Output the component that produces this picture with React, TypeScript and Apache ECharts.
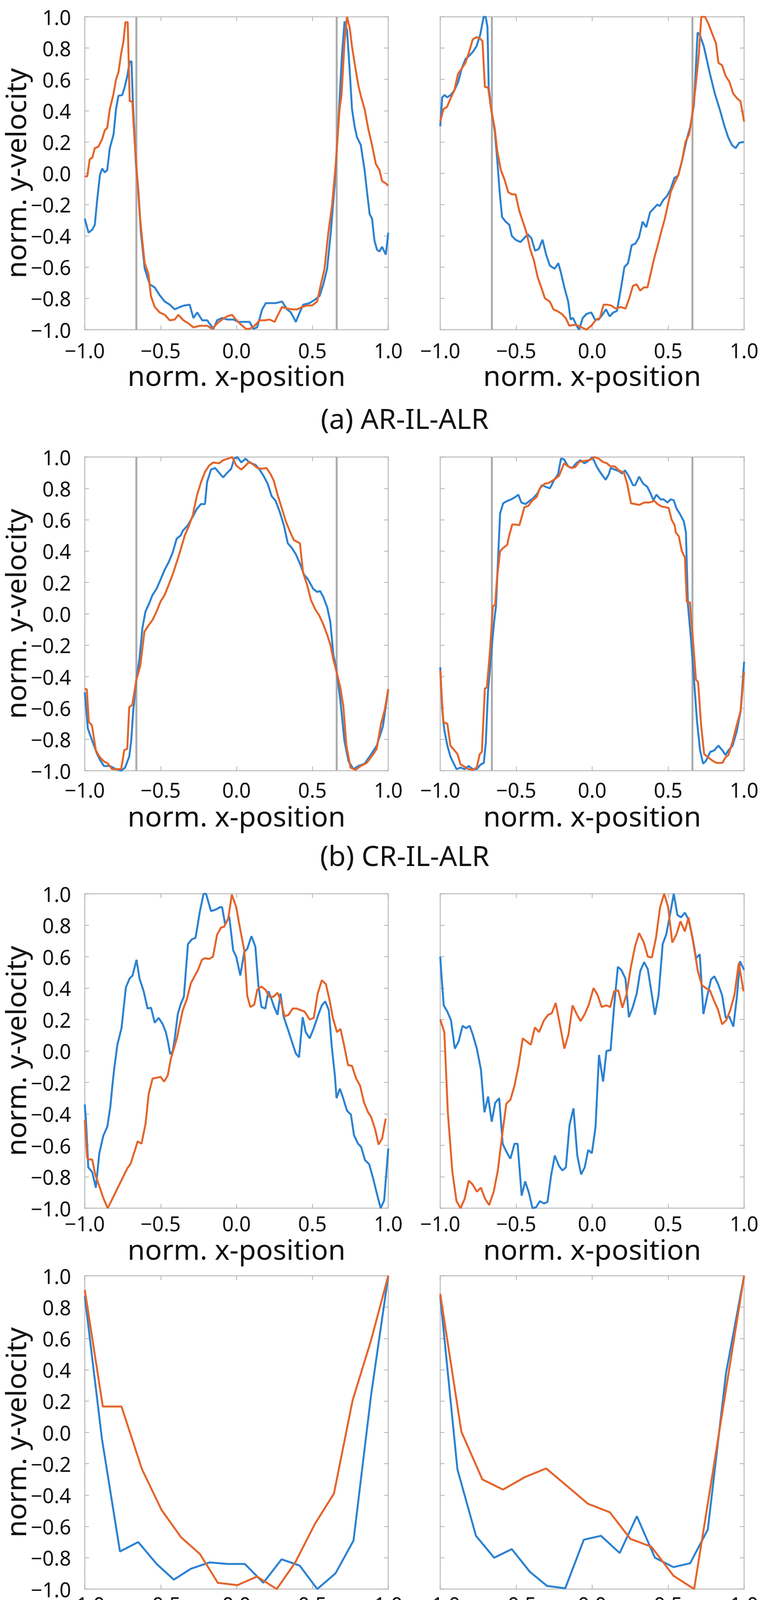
import React, { useEffect, useRef } from "react";
import * as echarts from "echarts";

// ---------- data (x = norm. x-position, y = norm. y-velocity) ----------
const aLeftIndustrial = [[-1,-0.29],[-0.975,-0.38],[-0.95,-0.36],[-0.934,-0.33],[-0.918,-0.17],[-0.9,-0.01],[-0.885,0.03],[-0.868,0.005],[-0.852,0.02],[-0.835,0.16],[-0.81,0.25],[-0.794,0.41],[-0.778,0.495],[-0.753,0.5],[-0.737,0.55],[-0.72,0.62],[-0.704,0.715],[-0.692,0.715],[-0.684,0.48],[-0.663,0.06],[-0.646,-0.12],[-0.63,-0.38],[-0.605,-0.61],[-0.572,-0.71],[-0.539,-0.73],[-0.506,-0.78],[-0.473,-0.82],[-0.44,-0.84],[-0.407,-0.87],[-0.374,-0.855],[-0.342,-0.845],[-0.309,-0.84],[-0.284,-0.925],[-0.259,-0.89],[-0.226,-0.94],[-0.193,-0.94],[-0.152,-0.995],[-0.128,-0.94],[-0.095,-0.925],[-0.062,-0.935],[-0.021,-0.935],[0.012,-0.95],[0.045,-0.95],[0.086,-0.95],[0.111,-0.995],[0.136,-0.985],[0.169,-0.87],[0.193,-0.83],[0.226,-0.83],[0.259,-0.83],[0.3,-0.82],[0.333,-0.87],[0.358,-0.89],[0.391,-0.95],[0.416,-0.89],[0.44,-0.84],[0.481,-0.83],[0.514,-0.81],[0.547,-0.785],[0.572,-0.71],[0.597,-0.61],[0.621,-0.38],[0.646,-0.08],[0.671,0.32],[0.695,0.76],[0.712,0.97],[0.728,0.915],[0.745,0.67],[0.761,0.41],[0.778,0.3],[0.794,0.23],[0.819,0.18],[0.844,0.02],[0.86,-0.12],[0.877,-0.26],[0.893,-0.29],[0.909,-0.43],[0.926,-0.49],[0.942,-0.5],[0.959,-0.47],[0.984,-0.52],[1,-0.38]];
const aLeftPilot = [[-1,-0.02],[-0.984,-0.02],[-0.967,0.09],[-0.95,0.1],[-0.934,0.16],[-0.91,0.17],[-0.885,0.22],[-0.868,0.275],[-0.852,0.29],[-0.835,0.41],[-0.81,0.51],[-0.794,0.6],[-0.778,0.645],[-0.761,0.76],[-0.745,0.845],[-0.732,0.965],[-0.717,0.965],[-0.704,0.46],[-0.687,0.46],[-0.671,0.2],[-0.654,-0.03],[-0.638,-0.26],[-0.621,-0.43],[-0.605,-0.575],[-0.58,-0.645],[-0.564,-0.785],[-0.539,-0.855],[-0.506,-0.89],[-0.473,-0.905],[-0.44,-0.94],[-0.407,-0.935],[-0.383,-0.905],[-0.35,-0.94],[-0.317,-0.96],[-0.284,-0.985],[-0.243,-0.975],[-0.193,-0.975],[-0.16,-0.995],[-0.128,-0.96],[-0.095,-0.935],[-0.062,-0.915],[-0.029,-0.905],[-0.004,-0.935],[0.021,-0.96],[0.062,-0.995],[0.086,-0.995],[0.119,-0.975],[0.152,-0.94],[0.185,-0.94],[0.218,-0.935],[0.251,-0.95],[0.276,-0.9],[0.3,-0.855],[0.333,-0.865],[0.366,-0.87],[0.399,-0.87],[0.432,-0.855],[0.465,-0.845],[0.498,-0.845],[0.531,-0.82],[0.556,-0.71],[0.58,-0.61],[0.605,-0.38],[0.63,-0.2],[0.654,0.06],[0.679,0.41],[0.692,0.5],[0.712,0.845],[0.728,1],[0.745,0.935],[0.761,0.81],[0.778,0.705],[0.802,0.565],[0.819,0.495],[0.844,0.41],[0.868,0.285],[0.893,0.18],[0.918,0.06],[0.942,0.02],[0.959,-0.05],[0.984,-0.065],[1,-0.08]];
const aRightIndustrial = [[-1,0.3],[-0.987,0.485],[-0.971,0.5],[-0.955,0.485],[-0.931,0.5],[-0.907,0.53],[-0.883,0.58],[-0.858,0.67],[-0.834,0.73],[-0.81,0.75],[-0.786,0.775],[-0.762,0.81],[-0.738,0.88],[-0.714,1],[-0.701,1],[-0.689,0.935],[-0.681,0.55],[-0.665,0.41],[-0.641,0.27],[-0.625,0.09],[-0.609,-0.12],[-0.593,-0.28],[-0.569,-0.31],[-0.545,-0.33],[-0.529,-0.4],[-0.504,-0.425],[-0.472,-0.44],[-0.448,-0.415],[-0.424,-0.39],[-0.4,-0.415],[-0.376,-0.495],[-0.352,-0.485],[-0.327,-0.425],[-0.303,-0.52],[-0.279,-0.59],[-0.247,-0.61],[-0.223,-0.575],[-0.207,-0.63],[-0.183,-0.73],[-0.158,-0.82],[-0.142,-0.935],[-0.126,-0.925],[-0.102,-0.975],[-0.086,-1],[-0.062,-0.925],[-0.038,-0.9],[-0.006,-0.89],[0.018,-0.935],[0.043,-0.935],[0.067,-0.905],[0.091,-0.87],[0.115,-0.915],[0.139,-0.89],[0.163,-0.88],[0.187,-0.75],[0.212,-0.6],[0.236,-0.575],[0.26,-0.46],[0.284,-0.45],[0.308,-0.41],[0.332,-0.31],[0.356,-0.345],[0.381,-0.25],[0.405,-0.225],[0.429,-0.2],[0.445,-0.21],[0.469,-0.17],[0.493,-0.145],[0.517,-0.1],[0.541,-0.03],[0.566,-0.015],[0.59,0.075],[0.622,0.215],[0.646,0.3],[0.67,0.44],[0.694,0.9],[0.71,0.88],[0.735,0.81],[0.751,0.74],[0.775,0.635],[0.807,0.51],[0.839,0.41],[0.871,0.3],[0.895,0.23],[0.92,0.18],[0.944,0.16],[0.968,0.195],[1,0.2]];
const aRightPilot = [[-1,0.33],[-0.979,0.41],[-0.955,0.425],[-0.931,0.48],[-0.907,0.53],[-0.883,0.635],[-0.858,0.67],[-0.834,0.705],[-0.81,0.775],[-0.786,0.855],[-0.762,0.87],[-0.738,0.86],[-0.722,0.845],[-0.706,0.55],[-0.685,0.55],[-0.665,0.41],[-0.641,0.285],[-0.625,0.145],[-0.601,0.02],[-0.577,-0.04],[-0.553,-0.12],[-0.529,-0.135],[-0.504,-0.135],[-0.48,-0.24],[-0.456,-0.31],[-0.432,-0.38],[-0.408,-0.485],[-0.384,-0.555],[-0.36,-0.66],[-0.335,-0.73],[-0.311,-0.8],[-0.279,-0.82],[-0.255,-0.87],[-0.231,-0.88],[-0.199,-0.9],[-0.175,-0.925],[-0.15,-0.975],[-0.126,-0.97],[-0.102,-0.97],[-0.07,-0.985],[-0.038,-1],[-0.006,-0.975],[0.027,-0.935],[0.051,-0.925],[0.075,-0.84],[0.099,-0.84],[0.123,-0.845],[0.155,-0.865],[0.187,-0.855],[0.22,-0.865],[0.244,-0.8],[0.268,-0.72],[0.292,-0.71],[0.316,-0.75],[0.34,-0.73],[0.364,-0.73],[0.389,-0.625],[0.405,-0.555],[0.429,-0.47],[0.453,-0.38],[0.477,-0.295],[0.493,-0.225],[0.517,-0.12],[0.541,-0.065],[0.566,-0.015],[0.59,0.075],[0.614,0.2],[0.638,0.25],[0.654,0.34],[0.678,0.53],[0.702,0.76],[0.718,1],[0.743,1],[0.767,0.95],[0.791,0.89],[0.815,0.83],[0.831,0.705],[0.855,0.69],[0.879,0.62],[0.903,0.585],[0.928,0.51],[0.952,0.48],[0.976,0.46],[1,0.33]];

const bLeftIndustrial = [[-1,-0.5],[-0.98,-0.73],[-0.951,-0.81],[-0.92,-0.89],[-0.9,-0.93],[-0.874,-0.97],[-0.834,-0.97],[-0.794,-0.99],[-0.76,-1],[-0.734,-0.98],[-0.707,-0.91],[-0.694,-0.81],[-0.68,-0.61],[-0.66,-0.42],[-0.64,-0.29],[-0.62,-0.09],[-0.6,0.015],[-0.574,0.07],[-0.554,0.12],[-0.527,0.16],[-0.5,0.22],[-0.474,0.28],[-0.447,0.33],[-0.421,0.39],[-0.394,0.48],[-0.368,0.5],[-0.354,0.53],[-0.321,0.565],[-0.288,0.62],[-0.261,0.67],[-0.234,0.7],[-0.208,0.7],[-0.194,0.84],[-0.168,0.92],[-0.141,0.93],[-0.115,0.9],[-0.088,0.87],[-0.061,0.9],[-0.035,0.925],[-0.015,0.99],[0.005,1],[0.032,0.965],[0.059,0.99],[0.085,0.965],[0.125,0.95],[0.152,0.92],[0.178,0.88],[0.205,0.83],[0.232,0.75],[0.258,0.72],[0.285,0.65],[0.312,0.565],[0.338,0.45],[0.365,0.42],[0.391,0.38],[0.418,0.32],[0.445,0.25],[0.471,0.22],[0.505,0.16],[0.531,0.14],[0.551,0.145],[0.571,0.11],[0.598,0.04],[0.618,-0.05],[0.638,-0.26],[0.658,-0.35],[0.684,-0.55],[0.711,-0.81],[0.738,-0.94],[0.771,-0.99],[0.804,-0.97],[0.844,-0.955],[0.884,-0.9],[0.924,-0.84],[0.964,-0.72],[1,-0.48]];
const bLeftPilot = [[-1,-0.48],[-0.987,-0.48],[-0.973,-0.69],[-0.953,-0.71],[-0.927,-0.87],[-0.9,-0.915],[-0.874,-0.94],[-0.847,-0.955],[-0.82,-0.99],[-0.78,-0.99],[-0.76,-0.99],[-0.74,-0.87],[-0.72,-0.86],[-0.707,-0.595],[-0.687,-0.58],[-0.66,-0.42],[-0.634,-0.33],[-0.607,-0.115],[-0.581,-0.075],[-0.554,-0.04],[-0.527,0.015],[-0.5,0.08],[-0.474,0.12],[-0.447,0.185],[-0.421,0.25],[-0.394,0.33],[-0.368,0.41],[-0.341,0.5],[-0.314,0.56],[-0.288,0.63],[-0.261,0.755],[-0.234,0.84],[-0.208,0.905],[-0.181,0.945],[-0.154,0.965],[-0.115,0.96],[-0.088,0.98],[-0.055,0.99],[-0.028,1],[-0.001,0.945],[0.032,0.92],[0.059,0.945],[0.085,0.97],[0.112,0.95],[0.138,0.93],[0.165,0.925],[0.198,0.93],[0.225,0.89],[0.245,0.85],[0.272,0.755],[0.298,0.675],[0.325,0.59],[0.352,0.525],[0.378,0.47],[0.418,0.45],[0.438,0.265],[0.465,0.185],[0.491,0.087],[0.518,0.03],[0.545,-0.01],[0.571,-0.065],[0.598,-0.135],[0.618,-0.195],[0.638,-0.29],[0.658,-0.365],[0.684,-0.47],[0.704,-0.59],[0.724,-0.84],[0.751,-0.98],[0.784,-0.995],[0.818,-0.97],[0.858,-0.95],[0.897,-0.9],[0.924,-0.86],[0.951,-0.705],[0.977,-0.61],[1,-0.48]];
const bRightIndustrial = [[-1,-0.34],[-0.987,-0.61],[-0.973,-0.74],[-0.953,-0.84],[-0.933,-0.91],[-0.913,-0.95],[-0.893,-0.99],[-0.866,-0.98],[-0.84,-0.99],[-0.813,-0.97],[-0.786,-0.99],[-0.76,-0.99],[-0.733,-0.96],[-0.713,-0.95],[-0.7,-0.82],[-0.686,-0.5],[-0.666,-0.27],[-0.646,-0.055],[-0.633,0.05],[-0.619,0.36],[-0.606,0.64],[-0.586,0.705],[-0.559,0.72],[-0.532,0.73],[-0.506,0.745],[-0.486,0.76],[-0.466,0.71],[-0.439,0.7],[-0.412,0.72],[-0.385,0.74],[-0.359,0.77],[-0.332,0.82],[-0.305,0.81],[-0.279,0.8],[-0.252,0.85],[-0.225,0.89],[-0.205,0.99],[-0.185,0.985],[-0.158,0.94],[-0.132,0.93],[-0.105,0.96],[-0.078,0.98],[-0.051,0.96],[-0.025,0.975],[0.002,1],[0.029,0.94],[0.055,0.9],[0.089,0.855],[0.109,0.89],[0.122,0.93],[0.149,0.92],[0.176,0.91],[0.196,0.895],[0.216,0.915],[0.242,0.875],[0.269,0.82],[0.283,0.82],[0.309,0.875],[0.336,0.83],[0.363,0.81],[0.383,0.77],[0.403,0.725],[0.423,0.76],[0.45,0.73],[0.47,0.73],[0.496,0.71],[0.516,0.73],[0.536,0.725],[0.556,0.67],[0.576,0.64],[0.603,0.59],[0.617,0.52],[0.63,0.06],[0.65,-0.16],[0.67,-0.42],[0.69,-0.685],[0.71,-0.87],[0.73,-0.955],[0.75,-0.935],[0.777,-0.88],[0.804,-0.87],[0.83,-0.84],[0.857,-0.87],[0.877,-0.9],[0.897,-0.87],[0.924,-0.84],[0.951,-0.75],[0.977,-0.62],[1,-0.305]];
const bRightPilot = [[-1,-0.36],[-0.98,-0.69],[-0.953,-0.7],[-0.933,-0.84],[-0.906,-0.87],[-0.886,-0.895],[-0.866,-0.96],[-0.84,-0.975],[-0.813,-0.99],[-0.786,-0.995],[-0.76,-0.98],[-0.74,-0.895],[-0.726,-0.88],[-0.706,-0.475],[-0.693,-0.47],[-0.673,-0.24],[-0.653,0.05],[-0.639,0.055],[-0.626,0.23],[-0.606,0.4],[-0.586,0.42],[-0.559,0.44],[-0.546,0.5],[-0.526,0.57],[-0.506,0.57],[-0.479,0.565],[-0.446,0.68],[-0.419,0.69],[-0.392,0.725],[-0.365,0.745],[-0.345,0.8],[-0.312,0.83],[-0.285,0.835],[-0.252,0.855],[-0.218,0.88],[-0.185,0.96],[-0.165,0.945],[-0.138,0.93],[-0.112,0.935],[-0.085,0.97],[-0.051,0.975],[-0.018,0.98],[0.015,1],[0.042,0.99],[0.069,0.97],[0.096,0.96],[0.122,0.94],[0.149,0.94],[0.176,0.915],[0.209,0.9],[0.229,0.835],[0.256,0.705],[0.283,0.7],[0.309,0.695],[0.343,0.71],[0.376,0.71],[0.41,0.72],[0.43,0.7],[0.456,0.685],[0.483,0.68],[0.503,0.675],[0.523,0.6],[0.543,0.565],[0.55,0.52],[0.57,0.495],[0.59,0.4],[0.61,0.36],[0.623,0.075],[0.643,0.075],[0.663,-0.16],[0.683,-0.42],[0.697,-0.435],[0.717,-0.71],[0.737,-0.895],[0.764,-0.915],[0.79,-0.935],[0.817,-0.95],[0.857,-0.95],[0.877,-0.915],[0.897,-0.9],[0.924,-0.815],[0.951,-0.71],[0.977,-0.62],[1,-0.37]];

const c1LeftIndustrial = [[-1,-0.34],[-0.991,-0.46],[-0.977,-0.74],[-0.951,-0.77],[-0.927,-0.87],[-0.904,-0.65],[-0.878,-0.54],[-0.851,-0.48],[-0.831,-0.35],[-0.818,-0.22],[-0.805,-0.105],[-0.785,0.04],[-0.758,0.145],[-0.745,0.26],[-0.729,0.405],[-0.705,0.46],[-0.685,0.48],[-0.659,0.58],[-0.639,0.46],[-0.612,0.38],[-0.586,0.27],[-0.563,0.275],[-0.539,0.18],[-0.513,0.21],[-0.486,0.17],[-0.466,0.12],[-0.453,0.065],[-0.437,-0.02],[-0.42,0],[-0.407,0.08],[-0.387,0.235],[-0.367,0.3],[-0.347,0.345],[-0.32,0.68],[-0.294,0.71],[-0.27,0.72],[-0.241,0.89],[-0.217,1],[-0.201,1],[-0.168,0.89],[-0.135,0.9],[-0.108,0.915],[-0.095,0.915],[-0.075,0.805],[-0.048,0.855],[-0.022,0.64],[-0.002,0.6],[0.025,0.48],[0.051,0.63],[0.071,0.65],[0.098,0.73],[0.124,0.665],[0.144,0.42],[0.164,0.28],[0.19,0.27],[0.21,0.38],[0.23,0.33],[0.25,0.275],[0.27,0.23],[0.29,0.365],[0.31,0.22],[0.336,0.145],[0.363,0.065],[0.39,-0.015],[0.412,-0.04],[0.436,0.215],[0.456,0.12],[0.482,0.08],[0.509,0.145],[0.535,0.22],[0.562,0.29],[0.585,0.315],[0.608,0.26],[0.628,0.025],[0.648,-0.155],[0.659,-0.3],[0.681,-0.24],[0.701,-0.295],[0.728,-0.38],[0.754,-0.405],[0.774,-0.535],[0.801,-0.59],[0.821,-0.61],[0.847,-0.695],[0.874,-0.72],[0.9,-0.81],[0.927,-0.915],[0.95,-1],[0.973,-0.95],[1,-0.62]];
const c1LeftPilot = [[-1,-0.44],[-0.984,-0.68],[-0.971,-0.69],[-0.951,-0.69],[-0.931,-0.785],[-0.904,-0.86],[-0.878,-0.935],[-0.849,-1],[-0.818,-0.94],[-0.785,-0.875],[-0.752,-0.81],[-0.719,-0.745],[-0.699,-0.72],[-0.672,-0.64],[-0.652,-0.575],[-0.626,-0.59],[-0.599,-0.46],[-0.579,-0.275],[-0.553,-0.175],[-0.526,-0.17],[-0.5,-0.165],[-0.477,-0.195],[-0.453,-0.155],[-0.433,-0.05],[-0.413,0.015],[-0.393,0.08],[-0.374,0.17],[-0.354,0.26],[-0.327,0.33],[-0.301,0.43],[-0.274,0.48],[-0.254,0.515],[-0.228,0.58],[-0.208,0.59],[-0.181,0.585],[-0.155,0.6],[-0.128,0.74],[-0.102,0.785],[-0.082,0.79],[-0.055,0.84],[-0.031,0.995],[-0.002,0.915],[0.025,0.77],[0.051,0.64],[0.071,0.35],[0.091,0.28],[0.117,0.295],[0.137,0.39],[0.164,0.41],[0.19,0.39],[0.217,0.345],[0.243,0.345],[0.27,0.37],[0.29,0.325],[0.317,0.22],[0.343,0.23],[0.37,0.27],[0.396,0.27],[0.423,0.26],[0.449,0.25],[0.482,0.2],[0.509,0.21],[0.535,0.365],[0.562,0.45],[0.589,0.425],[0.615,0.315],[0.635,0.21],[0.662,0.12],[0.685,0.14],[0.708,0.04],[0.735,-0.09],[0.761,-0.095],[0.788,-0.175],[0.814,-0.22],[0.841,-0.33],[0.867,-0.39],[0.887,-0.42],[0.914,-0.5],[0.936,-0.595],[0.96,-0.555],[0.983,-0.43]];
const c1RightIndustrial = [[-1,0.6],[-0.991,0.47],[-0.977,0.29],[-0.953,0.25],[-0.929,0.195],[-0.904,0.015],[-0.879,0.06],[-0.853,0.16],[-0.83,0.145],[-0.806,0.16],[-0.786,0.105],[-0.759,0.015],[-0.732,-0.12],[-0.709,-0.39],[-0.685,-0.29],[-0.661,-0.45],[-0.638,-0.33],[-0.612,-0.3],[-0.589,-0.59],[-0.565,-0.64],[-0.538,-0.685],[-0.511,-0.59],[-0.491,-0.59],[-0.464,-0.92],[-0.441,-0.83],[-0.417,-0.9],[-0.393,-1],[-0.37,-0.995],[-0.344,-0.955],[-0.317,-0.97],[-0.294,-0.96],[-0.27,-0.79],[-0.246,-0.665],[-0.219,-0.73],[-0.196,-0.76],[-0.173,-0.74],[-0.149,-0.47],[-0.123,-0.365],[-0.098,-0.665],[-0.073,-0.785],[-0.049,-0.74],[-0.026,-0.63],[-0.002,-0.65],[0.022,-0.485],[0.045,-0.025],[0.072,-0.195],[0.094,0],[0.121,0.005],[0.145,0.29],[0.169,0.535],[0.192,0.515],[0.219,0.46],[0.242,0.215],[0.266,0.275],[0.293,0.365],[0.317,0.51],[0.342,0.565],[0.366,0.52],[0.389,0.38],[0.413,0.23],[0.437,0.355],[0.464,0.68],[0.487,0.74],[0.511,0.86],[0.537,1],[0.561,0.865],[0.585,0.85],[0.61,0.88],[0.634,0.835],[0.661,0.72],[0.684,0.59],[0.708,0.615],[0.732,0.235],[0.755,0.34],[0.782,0.455],[0.804,0.475],[0.829,0.425],[0.855,0.355],[0.879,0.21],[0.902,0.22],[0.929,0.155],[0.952,0.34],[0.973,0.57],[1,0.515]];
const c1RightPilot = [[-1,0.2],[-0.973,0.12],[-0.95,-0.39],[-0.92,-0.77],[-0.893,-0.955],[-0.866,-1],[-0.839,-0.94],[-0.812,-0.825],[-0.786,-0.85],[-0.759,-0.895],[-0.732,-0.87],[-0.705,-0.94],[-0.678,-0.98],[-0.648,-0.895],[-0.621,-0.76],[-0.591,-0.525],[-0.565,-0.335],[-0.538,-0.31],[-0.511,-0.22],[-0.484,-0.09],[-0.457,0.08],[-0.431,0.06],[-0.404,0.04],[-0.377,0.15],[-0.35,0.12],[-0.317,0.195],[-0.29,0.23],[-0.266,0.24],[-0.24,0.305],[-0.21,0.155],[-0.183,0.015],[-0.156,0.105],[-0.129,0.29],[-0.102,0.235],[-0.076,0.19],[-0.049,0.235],[-0.022,0.295],[0.009,0.4],[0.036,0.355],[0.062,0.28],[0.092,0.29],[0.119,0.28],[0.145,0.38],[0.172,0.385],[0.199,0.275],[0.226,0.36],[0.252,0.52],[0.282,0.665],[0.309,0.75],[0.34,0.69],[0.366,0.6],[0.393,0.595],[0.42,0.72],[0.447,0.915],[0.474,1],[0.5,0.915],[0.527,0.69],[0.554,0.74],[0.581,0.825],[0.61,0.76],[0.634,0.85],[0.665,0.69],[0.695,0.51],[0.721,0.42],[0.748,0.4],[0.775,0.385],[0.802,0.32],[0.829,0.26],[0.855,0.17],[0.882,0.195],[0.909,0.26],[0.936,0.355],[0.965,0.56],[0.996,0.38]];

const c2LeftIndustrial = [[-1,0.87],[-0.887,-0.04],[-0.768,-0.76],[-0.648,-0.7],[-0.526,-0.84],[-0.413,-0.94],[-0.3,-0.87],[-0.177,-0.83],[-0.058,-0.84],[0.055,-0.84],[0.177,-0.96],[0.297,-0.81],[0.416,-0.85],[0.532,-1],[0.652,-0.9],[0.771,-0.69],[0.887,0.24],[1,1]];
const c2LeftPilot = [[-1,0.91],[-0.881,0.165],[-0.758,0.165],[-0.623,-0.235],[-0.494,-0.495],[-0.365,-0.67],[-0.242,-0.775],[-0.123,-0.96],[0.006,-0.975],[0.135,-0.92],[0.265,-1],[0.387,-0.83],[0.516,-0.585],[0.642,-0.39],[0.765,0.205],[0.887,0.59],[1,1]];
const c2RightIndustrial = [[-1,0.87],[-0.887,-0.235],[-0.765,-0.66],[-0.645,-0.8],[-0.529,-0.745],[-0.41,-0.89],[-0.297,-0.98],[-0.177,-0.995],[-0.055,-0.685],[0.058,-0.66],[0.181,-0.77],[0.294,-0.535],[0.413,-0.8],[0.535,-0.86],[0.645,-0.835],[0.761,-0.62],[0.881,0.38],[1,1]];
const c2RightPilot = [[-1,0.885],[-0.861,0.005],[-0.723,-0.3],[-0.587,-0.365],[-0.442,-0.285],[-0.303,-0.23],[-0.168,-0.34],[-0.029,-0.455],[0.116,-0.51],[0.252,-0.68],[0.39,-0.73],[0.535,-0.915],[0.671,-1],[1,1]];

const dLeftIndustrial = [[-1,-0.215],[-0.987,-0.485],[-0.974,-0.74],[-0.96,-0.71],[-0.943,-0.895],[-0.921,-0.895],[-0.903,-1],[-0.885,-0.93],[-0.868,-0.91],[-0.848,-0.87],[-0.828,-0.865],[-0.808,-0.765],[-0.792,-0.83],[-0.768,-0.81],[-0.752,-0.69],[-0.739,-0.72],[-0.722,-0.785],[-0.702,-0.72],[-0.682,-0.64],[-0.662,-0.56],[-0.642,-0.38],[-0.625,-0.345],[-0.605,-0.45],[-0.589,-0.46],[-0.57,-0.43],[-0.546,-0.22],[-0.532,-0.215],[-0.517,-0.315],[-0.483,-0.41],[-0.464,-0.25],[-0.444,-0.09],[-0.43,-0.07],[-0.404,0.12],[-0.384,0.13],[-0.358,0.105],[-0.331,0.19],[-0.311,0.315],[-0.291,0.47],[-0.272,0.635],[-0.252,0.655],[-0.228,0.86],[-0.212,0.86],[-0.199,0.875],[-0.179,0.785],[-0.162,0.6],[-0.146,0.6],[-0.126,0.645],[-0.099,0.65],[-0.086,0.64],[-0.069,0.7],[-0.05,0.78],[-0.033,0.69],[-0.013,0.685],[0,0.645],[0.02,0.75],[0.037,0.69],[0.056,0.6],[0.073,0.675],[0.093,0.58],[0.106,0.5],[0.119,0.535],[0.146,0.45],[0.172,0.645],[0.192,0.665],[0.219,0.71],[0.232,0.635],[0.252,0.53],[0.272,0.54],[0.291,0.59],[0.318,0.7],[0.335,0.665],[0.355,0.59],[0.377,0.665],[0.397,0.655],[0.417,0.69],[0.444,0.86],[0.468,0.905],[0.494,0.745],[0.51,0.8],[0.523,0.815],[0.532,0.89],[0.55,0.785],[0.567,0.72],[0.58,0.825],[0.596,0.975],[0.616,0.98],[0.636,1],[0.662,0.94],[0.699,0.975],[0.715,0.915],[0.732,0.68],[0.752,0.64],[0.768,0.43],[0.788,0.235],[0.808,0.12],[0.834,-0.025],[0.861,-0.13],[0.887,-0.315],[0.914,-0.485],[0.944,-0.675],[0.971,-0.6],[1,-0.2]];
const dLeftPilot = [[-1,-0.355],[-0.983,-0.36],[-0.967,-0.69],[-0.954,-0.71],[-0.938,-0.995],[-0.921,-0.98],[-0.907,-0.98],[-0.89,-0.86],[-0.874,-0.855],[-0.858,-0.705],[-0.841,-0.7],[-0.828,-0.57],[-0.811,-0.505],[-0.795,-0.5],[-0.781,-0.38],[-0.766,-0.375],[-0.752,-0.21],[-0.735,-0.06],[-0.722,-0.06],[-0.705,0.13],[-0.689,0.135],[-0.672,0.26],[-0.656,0.28],[-0.636,0.29],[-0.623,0.315],[-0.609,0.315],[-0.596,0.405],[-0.58,0.41],[-0.563,0.51],[-0.543,0.52],[-0.53,0.5],[-0.51,0.465],[-0.497,0.47],[-0.483,0.525],[-0.457,0.515],[-0.441,0.355],[-0.426,0.35],[-0.411,0.25],[-0.391,0.27],[-0.364,0.31],[-0.331,0.3],[-0.305,0.29],[-0.281,0.31],[-0.265,0.42],[-0.241,0.42],[-0.225,0.58],[-0.199,0.58],[-0.179,0.54],[-0.162,0.535],[-0.146,0.51],[-0.126,0.54],[-0.113,0.545],[-0.103,0.68],[-0.086,0.68],[-0.069,0.84],[-0.056,0.845],[-0.04,0.93],[-0.02,1],[0,0.955],[0.02,0.94],[0.037,0.87],[0.06,0.89],[0.073,0.89],[0.09,0.98],[0.099,0.98],[0.119,0.895],[0.132,0.89],[0.15,0.745],[0.166,0.79],[0.183,0.77],[0.199,0.745],[0.215,0.74],[0.232,0.69],[0.249,0.665],[0.265,0.64],[0.285,0.575],[0.298,0.525],[0.315,0.36],[0.335,0.34],[0.355,0.335],[0.377,0.37],[0.397,0.375],[0.411,0.34],[0.43,0.39],[0.45,0.385],[0.47,0.37],[0.487,0.36],[0.503,0.425],[0.523,0.44],[0.536,0.5],[0.55,0.51],[0.563,0.7],[0.58,0.82],[0.596,0.825],[0.625,0.825],[0.642,0.785],[0.66,0.765],[0.673,0.68],[0.689,0.57],[0.705,0.555],[0.722,0.47],[0.735,0.45],[0.752,0.34],[0.768,0.235],[0.788,0.23],[0.801,0.105],[0.819,0.09],[0.834,-0.105],[0.848,-0.24],[0.861,-0.245],[0.877,-0.355],[0.894,-0.36],[0.911,-0.43],[0.927,-0.435],[0.94,-0.49],[0.954,-0.465],[0.967,-0.465],[0.983,-0.295],[1,-0.295]];
const dRightIndustrial = [[-1,0.6],[-0.987,0.99],[-0.964,0.785],[-0.944,0.59],[-0.933,0.55],[-0.917,0.53],[-0.907,0.505],[-0.893,0.355],[-0.877,0.325],[-0.864,0.315],[-0.844,0.275],[-0.831,0.27],[-0.808,0.065],[-0.791,0.12],[-0.777,0.16],[-0.764,0.145],[-0.744,0.105],[-0.724,0.025],[-0.711,-0.105],[-0.693,-0.17],[-0.677,-0.21],[-0.657,-0.355],[-0.637,-0.485],[-0.624,-0.525],[-0.604,-0.485],[-0.584,-0.46],[-0.564,-0.4],[-0.551,-0.41],[-0.533,-0.47],[-0.511,-0.505],[-0.491,-0.485],[-0.471,-0.55],[-0.451,-0.63],[-0.431,-0.635],[-0.411,-0.59],[-0.397,-0.555],[-0.384,-0.59],[-0.371,-0.68],[-0.344,-0.76],[-0.324,-0.875],[-0.307,-1],[-0.291,-0.955],[-0.271,-0.935],[-0.244,-0.98],[-0.221,-0.9],[-0.204,-0.875],[-0.184,-0.935],[-0.168,-0.995],[-0.151,-0.97],[-0.131,-0.99],[-0.107,-0.9],[-0.091,-0.93],[-0.071,-0.865],[-0.053,-0.8],[-0.031,-0.835],[-0.011,-0.73],[0.003,-0.655],[0.023,-0.615],[0.04,-0.59],[0.059,-0.61],[0.08,-0.56],[0.099,-0.495],[0.12,-0.485],[0.143,-0.39],[0.156,-0.405],[0.173,-0.34],[0.189,-0.275],[0.209,-0.2],[0.223,-0.18],[0.236,-0.24],[0.256,-0.22],[0.276,-0.22],[0.296,-0.2],[0.316,-0.225],[0.329,-0.145],[0.349,-0.025],[0.369,0.13],[0.387,0.29],[0.403,0.42],[0.423,0.47],[0.44,0.515],[0.456,0.445],[0.469,0.405],[0.489,0.5],[0.507,0.57],[0.523,0.6],[0.543,0.67],[0.556,0.665],[0.583,0.595],[0.609,0.595],[0.629,0.6],[0.645,0.635],[0.663,0.575],[0.689,0.6],[0.716,0.625],[0.729,0.615],[0.749,0.555],[0.776,0.525],[0.796,0.575],[0.813,0.645],[0.827,0.64],[0.843,0.6],[0.856,0.665],[0.872,0.71],[0.885,0.7],[0.903,0.655],[0.923,0.66],[0.943,0.64],[0.963,0.7],[0.98,0.79],[0.989,0.63],[1,0.47]];
const dRightPilot = [[-1,-0.185],[-0.987,-0.19],[-0.971,-0.305],[-0.955,-0.31],[-0.941,-0.68],[-0.924,-0.85],[-0.907,-0.865],[-0.891,-0.96],[-0.875,-0.97],[-0.853,-1],[-0.835,-0.915],[-0.817,-0.705],[-0.8,-0.705],[-0.784,-0.555],[-0.768,-0.55],[-0.755,-0.47],[-0.741,-0.315],[-0.724,-0.31],[-0.707,-0.27],[-0.688,-0.255],[-0.677,-0.22],[-0.661,-0.045],[-0.644,-0.04],[-0.631,0.12],[-0.617,0.12],[-0.6,0.23],[-0.584,0.235],[-0.568,0.315],[-0.551,0.4],[-0.537,0.395],[-0.52,0.275],[-0.504,0.275],[-0.491,0.12],[-0.477,0.13],[-0.461,0.13],[-0.444,0.1],[-0.417,0.1],[-0.408,0.22],[-0.397,0.325],[-0.381,0.33],[-0.367,0.445],[-0.351,0.445],[-0.337,0.355],[-0.317,0.35],[-0.304,0.275],[-0.291,0.36],[-0.275,0.36],[-0.261,0.215],[-0.237,0.22],[-0.221,0.13],[-0.204,0.12],[-0.181,-0.025],[-0.164,-0.04],[-0.151,-0.05],[-0.133,0.13],[-0.117,0.135],[-0.101,0.21],[-0.084,0.205],[-0.067,0.19],[-0.053,0.19],[-0.035,0.45],[-0.017,0.455],[0.003,0.575],[0.019,0.575],[0.032,0.515],[0.063,0.515],[0.076,0.555],[0.096,0.57],[0.112,0.63],[0.129,0.635],[0.143,0.7],[0.16,0.83],[0.173,0.84],[0.187,0.965],[0.2,1],[0.223,0.955],[0.24,0.79],[0.253,0.785],[0.269,0.675],[0.289,0.68],[0.309,0.71],[0.329,0.72],[0.343,0.515],[0.36,0.505],[0.383,0.28],[0.403,0.28],[0.423,0.34],[0.443,0.345],[0.456,0.365],[0.472,0.365],[0.489,0.5],[0.509,0.59],[0.536,0.59],[0.549,0.575],[0.563,0.47],[0.579,0.34],[0.596,0.335],[0.623,0.33],[0.645,0.365],[0.667,0.34],[0.683,0.19],[0.699,0.185],[0.716,0.1],[0.733,0.09],[0.749,0.02],[0.776,0.015],[0.796,0.025],[0.813,0.025],[0.827,-0.17],[0.843,-0.23],[0.856,-0.235],[0.876,-0.3],[0.896,-0.29],[0.916,-0.285],[0.936,-0.265],[0.949,0.15],[0.963,0.155],[0.976,0.085],[0.996,0.08]];

const boundaryLines = [-0.66, 0.66];
const seriesNames = ["industrial-scale", "pilot-scale"];
const captions = ["(a) AR-IL-ALR", "(b) CR-IL-ALR", "(c) EL-ALR", "(d) BCR"];
const xAxisTitle = "norm. x-position";
const yAxisTitle = "norm. y-velocity";

const panels = [
  { row: 0, col: 0, ind: aLeftIndustrial, pil: aLeftPilot, bounds: true },
  { row: 0, col: 1, ind: aRightIndustrial, pil: aRightPilot, bounds: true },
  { row: 1, col: 0, ind: bLeftIndustrial, pil: bLeftPilot, bounds: true },
  { row: 1, col: 1, ind: bRightIndustrial, pil: bRightPilot, bounds: true },
  { row: 2, col: 0, ind: c1LeftIndustrial, pil: c1LeftPilot, bounds: false },
  { row: 2, col: 1, ind: c1RightIndustrial, pil: c1RightPilot, bounds: false },
  { row: 3, col: 0, ind: c2LeftIndustrial, pil: c2LeftPilot, bounds: false },
  { row: 3, col: 1, ind: c2RightIndustrial, pil: c2RightPilot, bounds: false },
  { row: 4, col: 0, ind: dLeftIndustrial, pil: dLeftPilot, bounds: false },
  { row: 4, col: 1, ind: dRightIndustrial, pil: dRightPilot, bounds: false },
];

// ---------- layout ----------
const W = 1961;
const H = 5553;
const FONT = "'Noto Sans', 'Open Sans', sans-serif";
const BLUE = "#2c82d1";
const ORANGE = "#e4652b";
const COLS = [
  { left: 217, width: 777 },
  { left: 1127, width: 778 },
];
const ROWS = [
  { top: 43, height: 801, labelMargin: 26, nameGap: 80 },
  { top: 1170, height: 803, labelMargin: 22, nameGap: 79 },
  { top: 2288, height: 805, labelMargin: 12, nameGap: 68 },
  { top: 3266, height: 802, labelMargin: 12, nameGap: 68 },
  { top: 4378, height: 800, labelMargin: 12, nameGap: 44 },
];
const CAPTION_Y = [1070, 2189, 4279, 5496];

function fmt(v: number): string {
  if (Math.abs(v) < 1e-9) return "0.0";
  const s = Math.abs(v).toFixed(1);
  return v < 0 ? "\u2212" + s : s;
}

function buildOption() {
  const grid: any[] = [];
  const xAxis: any[] = [];
  const yAxis: any[] = [];
  const series: any[] = [];
  const tick = { show: true, inside: true, length: 11, lineStyle: { color: "#b4b4b4", width: 2 } };
  const hiddenLine = { show: false, onZero: false };

  panels.forEach((p, i) => {
    const r = ROWS[p.row];
    const c = COLS[p.col];
    grid.push({
      left: c.left, top: r.top, width: c.width, height: r.height,
      show: true, borderColor: "#c4c4c4", borderWidth: 3, backgroundColor: "transparent",
    });
    xAxis.push({
      gridIndex: i, type: "value", min: -1, max: 1, interval: 0.5, position: "bottom",
      axisLine: hiddenLine, axisTick: tick, splitLine: { show: false },
      axisLabel: { show: true, margin: r.labelMargin, fontSize: 52, fontFamily: FONT, color: "#111", formatter: fmt },
      name: xAxisTitle, nameLocation: "middle", nameGap: r.nameGap,
      nameTextStyle: { fontSize: 72, fontFamily: FONT, color: "#111" },
    });
    xAxis.push({
      gridIndex: i, type: "value", min: -1, max: 1, interval: 0.5, position: "top",
      axisLine: hiddenLine, axisTick: tick, splitLine: { show: false }, axisLabel: { show: false },
    });
    yAxis.push({
      gridIndex: i, type: "value", min: -1, max: 1, interval: 0.2, position: "left",
      axisLine: hiddenLine, axisTick: tick, splitLine: { show: false },
      axisLabel: { show: p.col === 0, margin: 35, fontSize: 52, fontFamily: FONT, color: "#111", formatter: fmt },
      name: p.col === 0 ? yAxisTitle : "", nameLocation: "middle", nameGap: 119,
      nameTextStyle: { fontSize: 72, fontFamily: FONT, color: "#111" },
    });
    yAxis.push({
      gridIndex: i, type: "value", min: -1, max: 1, interval: 0.2, position: "right",
      axisLine: hiddenLine, axisTick: tick, splitLine: { show: false }, axisLabel: { show: false },
    });
    const xi = i * 2;
    const yi = i * 2;
    if (p.bounds) {
      boundaryLines.forEach((bx) => {
        series.push({
          type: "line", xAxisIndex: xi, yAxisIndex: yi, silent: true, z: 1,
          symbol: "none", data: [[bx, -1], [bx, 1]],
          lineStyle: { color: "#ababab", width: 5 },
        });
      });
    }
    series.push({
      name: seriesNames[0], type: "line", xAxisIndex: xi, yAxisIndex: yi, z: 3,
      symbol: "none", showSymbol: false, data: p.ind, color: BLUE,
      lineStyle: { color: BLUE, width: 5 },
    });
    series.push({
      name: seriesNames[1], type: "line", xAxisIndex: xi, yAxisIndex: yi, z: 3,
      symbol: "none", showSymbol: false, data: p.pil, color: ORANGE,
      lineStyle: { color: ORANGE, width: 5 },
    });
  });

  const graphic = captions.map((t, k) => ({
    type: "text", x: 1036, y: CAPTION_Y[k],
    style: { text: t, fontSize: 72, fontFamily: FONT, fill: "#111", align: "center", verticalAlign: "middle" },
  }));

  return {
    animation: false,
    backgroundColor: "#ffffff",
    grid, xAxis, yAxis, series, graphic,
    legend: {
      left: 548, top: 5358, orient: "horizontal",
      itemWidth: 86, itemHeight: 9, itemGap: 60,
      padding: [6, 12, 6, 14],
      borderColor: "#000", borderWidth: 2.5, backgroundColor: "#fff",
      textStyle: { fontSize: 58, fontFamily: FONT, color: "#111", padding: [0, 0, 0, 16] },
      data: [
        { name: seriesNames[0], icon: "rect", itemStyle: { color: BLUE } },
        { name: seriesNames[1], icon: "rect", itemStyle: { color: ORANGE } },
      ],
    },
  };
}

export default function App() {
  const ref = useRef<HTMLDivElement | null>(null);
  useEffect(() => {
    document.body.style.margin = "0";
    if (!ref.current) return;
    const chart = echarts.init(ref.current, undefined, { renderer: "svg" });
    chart.setOption(buildOption() as any);
    return () => chart.dispose();
  }, []);
  return <div ref={ref} style={{ width: W, height: H, background: "#fff" }} />;
}
